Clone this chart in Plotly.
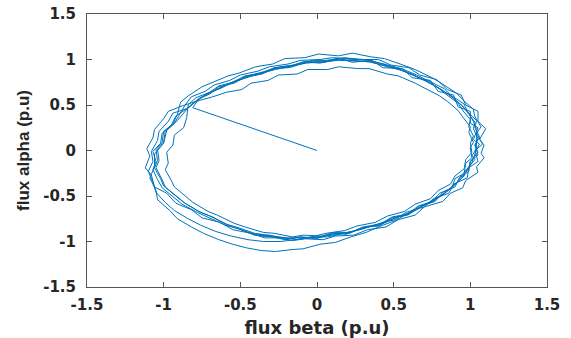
import plotly.graph_objects as go

# straight start segment from origin to first point on the orbit
start_beta = [0.0, -0.81]
start_alpha = [0.0, 0.47]

loopA_beta = [-0.81,-0.77,-0.70,-0.64,-0.54,-0.47,-0.36,-0.28,-0.16,-0.08,0.05,0.13,0.26,0.34,0.46,0.54,0.65,0.72,0.82,0.87,0.95,0.98,1.03,1.02,1.05,1.03,1.05,1.00,0.99,0.93,0.90,0.82,0.77,0.67,0.60,0.49,0.41,0.29,0.21,0.09,0.01,-0.11,-0.19,-0.31,-0.39,-0.51,-0.59,-0.70,-0.77,-0.87,-0.92,-1.00,-1.02,-1.06,-1.04,-1.05,-1.01,-1.00,-0.94,-0.91]
loopA_alpha = [0.47,0.57,0.62,0.70,0.74,0.81,0.84,0.90,0.92,0.97,0.97,1.00,0.98,0.98,0.92,0.89,0.81,0.76,0.66,0.60,0.49,0.42,0.31,0.24,0.13,0.06,-0.05,-0.12,-0.23,-0.30,-0.40,-0.46,-0.56,-0.61,-0.70,-0.74,-0.82,-0.85,-0.91,-0.92,-0.96,-0.95,-0.97,-0.93,-0.92,-0.85,-0.81,-0.72,-0.67,-0.57,-0.50,-0.39,-0.31,-0.19,-0.11,0.01,0.09,0.21,0.29,0.40]

loopO_beta = [-0.89,-0.84,-0.75,-0.69,-0.58,-0.51,-0.40,-0.29,-0.21,-0.08,0.01,0.14,0.23,0.35,0.44,0.56,0.64,0.75,0.81,0.91,0.95,1.02,1.03,1.07,1.04,1.08,1.03,1.05,0.99,0.98,0.89,0.86,0.76,0.70,0.58,0.51,0.41,0.28,0.20,0.07,-0.01,-0.13,-0.21,-0.34,-0.43,-0.55,-0.63,-0.75,-0.82,-0.92,-0.98,-1.06,-1.08,-1.12,-1.09,-1.11,-1.07,-1.06,-1.00,-0.97]
loopO_alpha = [0.53,0.60,0.70,0.74,0.82,0.85,0.92,0.95,1.01,1.02,1.06,1.04,1.07,1.03,1.01,0.94,0.89,0.80,0.74,0.63,0.56,0.45,0.37,0.26,0.19,0.07,0.00,-0.12,-0.19,-0.30,-0.37,-0.47,-0.53,-0.62,-0.68,-0.76,-0.80,-0.87,-0.90,-0.95,-0.95,-0.98,-0.96,-0.96,-0.91,-0.87,-0.79,-0.74,-0.65,-0.58,-0.47,-0.40,-0.27,-0.19,-0.06,0.02,0.14,0.23,0.35,0.43]

loopI_beta = [-0.88,-0.79,-0.68,-0.59,-0.49,-0.43,-0.32,-0.25,-0.13,-0.06,0.07,0.14,0.27,0.34,0.46,0.53,0.64,0.70,0.80,0.85,0.92,0.95,1.00,0.99,1.02,1.00,1.01,0.97,0.96,0.90,0.88,0.80,0.75,0.66,0.59,0.49,0.41,0.30,0.22,0.11,0.03,-0.09,-0.16,-0.28,-0.35,-0.47,-0.54,-0.65,-0.71,-0.81,-0.85,-0.93,-0.95,-0.99,-0.97,-0.98,-0.94,-0.93,-0.87,-0.85]
loopI_alpha = [0.49,0.54,0.59,0.64,0.67,0.74,0.77,0.83,0.84,0.89,0.89,0.92,0.90,0.90,0.84,0.82,0.74,0.69,0.60,0.54,0.44,0.37,0.26,0.20,0.09,0.03,-0.08,-0.14,-0.25,-0.31,-0.41,-0.47,-0.56,-0.61,-0.70,-0.73,-0.81,-0.84,-0.90,-0.90,-0.94,-0.93,-0.95,-0.91,-0.90,-0.84,-0.80,-0.71,-0.67,-0.57,-0.51,-0.40,-0.33,-0.21,-0.14,-0.02,0.06,0.17,0.25,0.36]

loopD_beta = [-0.84,-0.79,-0.70,-0.64,-0.55,-0.47,-0.36,-0.28,-0.17,-0.08,0.05,0.13,0.26,0.34,0.46,0.55,0.65,0.72,0.83,0.87,0.96,0.98,1.04,1.03,1.06,1.03,1.05,1.00,0.99,0.93,0.91,0.83,0.78,0.68,0.62,0.51,0.43,0.32,0.22,0.12,0.02,-0.09,-0.17,-0.27,-0.36,-0.46,-0.55,-0.64,-0.74,-0.82,-0.91,-0.96,-1.04,-1.05,-1.09,-1.06,-1.06,-1.00,-0.98,-0.91]
loopD_alpha = [0.50,0.58,0.64,0.71,0.75,0.82,0.85,0.91,0.93,0.98,0.98,1.01,1.00,0.99,0.94,0.90,0.83,0.77,0.68,0.61,0.51,0.43,0.33,0.25,0.15,0.06,-0.02,-0.12,-0.19,-0.30,-0.36,-0.47,-0.52,-0.62,-0.67,-0.77,-0.82,-0.90,-0.95,-1.01,-1.03,-1.08,-1.09,-1.11,-1.10,-1.07,-1.03,-0.98,-0.91,-0.84,-0.75,-0.66,-0.54,-0.44,-0.30,-0.18,-0.04,0.08,0.22,0.33]

loopR_beta = [-0.83,-0.76,-0.70,-0.60,-0.54,-0.43,-0.36,-0.24,-0.15,-0.03,0.06,0.18,0.28,0.40,0.48,0.60,0.67,0.78,0.85,0.94,0.97,1.05,1.05,1.10,1.06,1.09,1.07,1.09,1.04,1.05,0.97,0.95,0.87,0.82,0.70,0.64,0.53,0.45,0.33,0.24,0.12,0.04,-0.08,-0.16,-0.29,-0.37,-0.49,-0.57,-0.68,-0.76,-0.86,-0.91,-0.99,-1.01,-1.05,-1.03,-1.04,-1.00,-0.99,-0.93]
loopR_alpha = [0.49,0.58,0.63,0.71,0.76,0.83,0.86,0.92,0.94,0.99,0.99,1.02,1.00,1.00,0.94,0.91,0.83,0.78,0.67,0.61,0.50,0.43,0.32,0.24,0.12,0.06,-0.03,-0.08,-0.18,-0.24,-0.33,-0.41,-0.47,-0.56,-0.62,-0.71,-0.76,-0.84,-0.87,-0.93,-0.94,-0.98,-0.97,-0.99,-0.95,-0.94,-0.87,-0.83,-0.73,-0.68,-0.58,-0.51,-0.40,-0.32,-0.19,-0.11,0.01,0.09,0.21,0.30]

loopL_beta = [-0.86,-0.82,-0.73,-0.67,-0.57,-0.50,-0.39,-0.31,-0.19,-0.11,0.02,0.10,0.23,0.31,0.43,0.51,0.62,0.69,0.79,0.84,0.92,0.95,1.00,0.99,1.02,1.00,1.01,0.97,0.96,0.90,0.87,0.79,0.74,0.64,0.57,0.46,0.38,0.26,0.18,0.06,-0.04,-0.14,-0.24,-0.35,-0.45,-0.56,-0.66,-0.76,-0.84,-0.93,-0.99,-1.05,-1.07,-1.10,-1.07,-1.08,-1.04,-1.03,-0.97,-0.94]
loopL_alpha = [0.50,0.59,0.65,0.72,0.77,0.83,0.87,0.92,0.95,0.99,1.00,1.02,1.01,1.00,0.95,0.91,0.84,0.78,0.69,0.62,0.52,0.44,0.34,0.26,0.16,0.08,-0.02,-0.10,-0.20,-0.28,-0.37,-0.44,-0.53,-0.59,-0.67,-0.72,-0.79,-0.83,-0.88,-0.91,-0.95,-0.98,-1.00,-1.00,-0.98,-0.94,-0.89,-0.82,-0.75,-0.66,-0.57,-0.46,-0.35,-0.23,-0.12,-0.01,0.11,0.21,0.32,0.41]

loopE_beta = [-0.85,-0.77,-0.73,-0.62,-0.57,-0.45,-0.39,-0.27,-0.19,-0.06,0.02,0.15,0.23,0.36,0.43,0.56,0.62,0.74,0.79,0.89,0.92,1.00,1.00,1.05,1.02,1.06,1.01,1.03,0.96,0.96,0.87,0.85,0.75,0.70,0.59,0.52,0.40,0.32,0.19,0.11,-0.01,-0.11,-0.21,-0.31,-0.41,-0.51,-0.60,-0.70,-0.78,-0.88,-0.94,-1.01,-1.04,-1.07,-1.05,-1.07,-1.02,-1.01,-0.95,-0.92]
loopE_alpha = [0.46,0.56,0.61,0.70,0.73,0.81,0.83,0.90,0.91,0.97,0.96,1.01,0.97,0.99,0.91,0.90,0.80,0.77,0.65,0.61,0.48,0.43,0.30,0.25,0.12,0.07,-0.06,-0.10,-0.24,-0.28,-0.41,-0.45,-0.57,-0.60,-0.71,-0.73,-0.83,-0.84,-0.92,-0.91,-0.97,-0.95,-0.98,-0.94,-0.93,-0.86,-0.82,-0.74,-0.68,-0.59,-0.51,-0.41,-0.32,-0.21,-0.12,-0.01,0.08,0.19,0.28,0.38]

loopF_beta = [-0.83,-0.78,-0.71,-0.62,-0.55,-0.46,-0.37,-0.27,-0.17,-0.07,0.04,0.14,0.25,0.35,0.45,0.55,0.64,0.73,0.81,0.88,0.94,0.99,1.02,1.04,1.04,1.04,1.03,1.01,0.98,0.94,0.89,0.83,0.76,0.68,0.59,0.50,0.40,0.30,0.20,0.10,0.00,-0.10,-0.20,-0.30,-0.40]
loopF_alpha = [0.48,0.56,0.63,0.69,0.75,0.80,0.85,0.89,0.93,0.96,0.98,0.99,0.99,0.97,0.93,0.88,0.82,0.75,0.67,0.59,0.50,0.41,0.32,0.23,0.14,0.05,-0.04,-0.13,-0.22,-0.31,-0.39,-0.47,-0.55,-0.62,-0.69,-0.75,-0.81,-0.86,-0.90,-0.93,-0.95,-0.96,-0.96,-0.94,-0.91]

tick_vals = [-1.5, -1, -0.5, 0, 0.5, 1, 1.5]
tick_text = ["-1.5", "-1", "-0.5", "0", "0.5", "1", "1.5"]

beta = (start_beta + loopA_beta + loopO_beta + loopI_beta + loopD_beta
        + loopR_beta + loopL_beta + loopE_beta + loopF_beta)
alpha = (start_alpha + loopA_alpha + loopO_alpha + loopI_alpha + loopD_alpha
         + loopR_alpha + loopL_alpha + loopE_alpha + loopF_alpha)

fig = go.Figure()
fig.add_trace(go.Scatter(x=beta, y=alpha, mode="lines",
                         line=dict(color="#0072BD", width=1), showlegend=False))

TXT = "#262626"
tickfont = dict(family="DejaVu Sans", size=15, color=TXT, weight="bold")
axis_common = dict(
    tickvals=tick_vals, ticktext=tick_text,
    showgrid=False, zeroline=False, automargin=False,
    showline=True, linecolor="#555555", linewidth=1, mirror="ticks",
    ticks="inside", ticklen=5, tickcolor="#555555",
    tickfont=tickfont,
)

fig.update_layout(
    width=571, height=338,
    margin=dict(l=87, r=24, t=14, b=51),
    paper_bgcolor="white", plot_bgcolor="white",
    font=dict(family="DejaVu Sans", color=TXT),
    xaxis=dict(range=[-1.5, 1.5], ticklabelstandoff=4, **axis_common,
               title=dict(text="flux beta (p.u)", standoff=8,
                          font=dict(family="DejaVu Sans", size=18, color=TXT, weight="bold"))),
    yaxis=dict(range=[-1.5, 1.5], ticklabelstandoff=7, **axis_common,
               title=dict(text="flux alpha (p.u)", standoff=9,
                          font=dict(family="Liberation Sans", size=17, color=TXT, weight="bold"))),
)

fig.write_html("out.html", config={"displayModeBar": False},
               post_script="document.body.style.margin='0';")
